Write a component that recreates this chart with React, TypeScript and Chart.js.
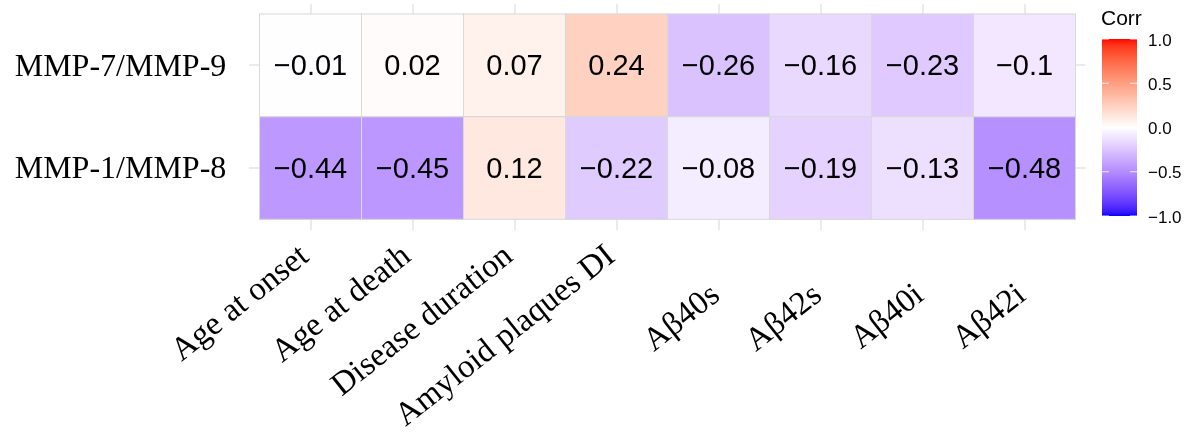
import React, { useEffect, useRef } from "react";
import { Chart, registerables } from "chart.js";

Chart.register(...registerables);

// ---------- data ----------
const rowLabels = ["MMP-7/MMP-9", "MMP-1/MMP-8"];
const columnLabels = [
  "Age at onset",
  "Age at death",
  "Disease duration",
  "Amyloid plaques DI",
  "Aβ40s",
  "Aβ42s",
  "Aβ40i",
  "Aβ42i",
];
const corrMMP7MMP9 = [-0.01, 0.02, 0.07, 0.24, -0.26, -0.16, -0.23, -0.1];
const corrMMP1MMP8 = [-0.44, -0.45, 0.12, -0.22, -0.08, -0.19, -0.13, -0.48];
const legendTicks = [1, 0.5, 0, -0.5, -1];
const legendTitle = "Corr";
const rowSeries = [corrMMP7MMP9, corrMMP1MMP8];

// ---------- colour scale (Lab interpolation blue - white - red) ----------
type V3 = [number, number, number];
const Xn = 0.95047, Yn = 1.0, Zn = 1.08883;
const toLin = (c: number) => {
  c /= 255;
  return c <= 0.04045 ? c / 12.92 : Math.pow((c + 0.055) / 1.055, 2.4);
};
const fromLin = (c: number) => {
  const v = c <= 0.0031308 ? 12.92 * c : 1.055 * Math.pow(c, 1 / 2.4) - 0.055;
  return Math.round(Math.min(1, Math.max(0, v)) * 255);
};
function rgbToLab([r, g, b]: V3): V3 {
  const R = toLin(r), G = toLin(g), B = toLin(b);
  const X = 0.4124564 * R + 0.3575761 * G + 0.1804375 * B;
  const Y = 0.2126729 * R + 0.7151522 * G + 0.072175 * B;
  const Z = 0.0193339 * R + 0.119192 * G + 0.9503041 * B;
  const f = (t: number) => (t > 216 / 24389 ? Math.cbrt(t) : ((24389 / 27) * t + 16) / 116);
  const fx = f(X / Xn), fy = f(Y / Yn), fz = f(Z / Zn);
  return [116 * fy - 16, 500 * (fx - fy), 200 * (fy - fz)];
}
function labToCss([L, a, b]: V3): string {
  const fy = (L + 16) / 116, fx = fy + a / 500, fz = fy - b / 200;
  const finv = (t: number) => (t * t * t > 216 / 24389 ? t * t * t : (116 * t - 16) / (24389 / 27));
  const X = Xn * finv(fx), Y = Yn * finv(fy), Z = Zn * finv(fz);
  const R = 3.2404542 * X - 1.5371385 * Y - 0.4985314 * Z;
  const G = -0.969266 * X + 1.8760108 * Y + 0.041556 * Z;
  const B = 0.0556434 * X - 0.2040259 * Y + 1.0572252 * Z;
  return `rgb(${fromLin(R)},${fromLin(G)},${fromLin(B)})`;
}
const LOW = rgbToLab([0, 0, 255]);
const MID = rgbToLab([255, 255, 255]);
const HIGH = rgbToLab([255, 0, 0]);
function corrColor(v: number): string {
  const t = (Math.max(-1, Math.min(1, v)) + 1) / 2;
  const [a, b, f] = t <= 0.5 ? [LOW, MID, t / 0.5] : [MID, HIGH, (t - 0.5) / 0.5];
  return labToCss([a[0] + (b[0] - a[0]) * f, a[1] + (b[1] - a[1]) * f, a[2] + (b[2] - a[2]) * f]);
}

const fmt = (v: number, digits?: number) => {
  const s = digits === undefined ? String(Math.abs(v)) : Math.abs(v).toFixed(digits);
  return (v < 0 ? "\u2212" : "") + s;
};

const SERIF = '"Liberation Serif", "Times New Roman", serif';
const SANS = '"Liberation Sans", Arial, Helvetica, sans-serif';

// ---------- plugin: cell borders, values, axis labels, colour bar ----------
const heatmapPlugin = {
  id: "heatmapDecor",
  afterDatasetsDraw(chart: any) {
    const ctx = chart.ctx as CanvasRenderingContext2D;
    ctx.save();
    chart.data.datasets.forEach((ds: any, di: number) => {
      const meta = chart.getDatasetMeta(di);
      meta.data.forEach((el: any) => {
        const p = el.getProps(["x", "y", "base", "width"], true);
        const top = Math.min(p.y, p.base);
        const h = Math.abs(p.base - p.y);
        ctx.strokeStyle = "#d9d9d9";
        ctx.lineWidth = 1;
        ctx.strokeRect(p.x - p.width / 2, top, p.width, h);
      });
    });
    chart.data.datasets.forEach((ds: any, di: number) => {
      const meta = chart.getDatasetMeta(di);
      const values: number[] = ds.corrValues;
      meta.data.forEach((el: any, i: number) => {
        const p = el.getProps(["x", "y", "base"], true);
        ctx.fillStyle = "#000";
        ctx.font = `29px ${SANS}`;
        ctx.textAlign = "center";
        ctx.textBaseline = "middle";
        ctx.fillText(fmt(values[i]), p.x, (p.y + p.base) / 2 + 2);
      });
    });
    ctx.restore();
  },
  afterDraw(chart: any) {
    const ctx = chart.ctx as CanvasRenderingContext2D;
    const xs = chart.scales.x;
    const ys = chart.scales.y;
    const area = chart.chartArea;
    ctx.save();
    // y labels
    ctx.fillStyle = "#000";
    ctx.font = `32px ${SERIF}`;
    ctx.textAlign = "right";
    ctx.textBaseline = "middle";
    rowLabels.forEach((lab, r) => {
      const yv = rowLabels.length - 1 - r;
      ctx.fillText(lab, area.left - 23, ys.getPixelForValue(yv) + 2);
    });
    // x labels, rotated
    const tileBottom = ys.getPixelForValue(-0.5);
    const ang = (-38.5 * Math.PI) / 180;
    ctx.font = `33px ${SERIF}`;
    ctx.textAlign = "right";
    ctx.textBaseline = "alphabetic";
    columnLabels.forEach((lab, i) => {
      const expr = lab.includes("β");
      const x = xs.getPixelForValue(i) + (expr ? 3 : 0);
      const y = tileBottom + (expr ? 79 : 40);
      ctx.save();
      ctx.translate(x, y);
      ctx.rotate(ang);
      ctx.fillText(lab, 0, 0);
      ctx.restore();
    });
    // colour bar legend
    const bx = 1102, bw = 35, btop = 39, bbot = 216;
    const grad = ctx.createLinearGradient(0, btop, 0, bbot);
    const n = 60;
    for (let k = 0; k <= n; k++) {
      const v = 1 - (2 * k) / n;
      grad.addColorStop(k / n, corrColor(v));
    }
    ctx.fillStyle = grad;
    ctx.fillRect(bx, btop, bw, bbot - btop);
    ctx.strokeStyle = "rgba(255,255,255,0.85)";
    ctx.lineWidth = 1;
    legendTicks.forEach((v) => {
      const ty = btop + ((1 - v) / 2) * (bbot - btop);
      ctx.beginPath();
      ctx.moveTo(bx, ty);
      ctx.lineTo(bx + 7, ty);
      ctx.moveTo(bx + bw - 7, ty);
      ctx.lineTo(bx + bw, ty);
      ctx.stroke();
    });
    ctx.fillStyle = "#000";
    ctx.font = `17px ${SANS}`;
    ctx.textAlign = "left";
    ctx.textBaseline = "middle";
    legendTicks.forEach((v) => {
      const ty = btop + ((1 - v) / 2) * (bbot - btop);
      ctx.fillText(fmt(v, 1), 1148, ty + 2);
    });
    ctx.font = `21px ${SANS}`;
    ctx.fillText(legendTitle, 1101, 19);
    ctx.restore();
  },
};

export default function App() {
  const ref = useRef<HTMLCanvasElement>(null);
  useEffect(() => {
    const canvas = ref.current;
    if (!canvas) return;
    const datasets = rowSeries.map((vals, r) => {
      const yv = rowLabels.length - 1 - r;
      return {
        label: rowLabels[r],
        corrValues: vals,
        data: vals.map((_, i) => ({ x: i, y: [yv - 0.5, yv + 0.5] })),
        backgroundColor: vals.map((v) => corrColor(v)),
        borderWidth: 0,
        barPercentage: 1,
        categoryPercentage: 1,
        grouped: false,
      };
    });
    const chart = new Chart(canvas, {
      type: "bar",
      data: { datasets: datasets as any },
      plugins: [heatmapPlugin as any],
      options: {
        responsive: false,
        animation: false,
        devicePixelRatio: 1,
        events: [],
        layout: { padding: { left: 249.3, right: 1192 - 1085.7, top: 3.7, bottom: 436 - 229.6 } },
        plugins: { legend: { display: false }, tooltip: { enabled: false } },
        scales: {
          x: {
            type: "linear",
            offset: false,
            min: -0.6,
            max: columnLabels.length - 1 + 0.6,
            afterBuildTicks: (s: any) => {
              s.ticks = columnLabels.map((_, i) => ({ value: i }));
            },
            afterFit: (s: any) => {
              s.height = 0;
            },
            ticks: { display: false },
            grid: { color: "#ebebeb", lineWidth: 2, drawTicks: false, offset: false },
            border: { display: false },
          },
          y: {
            type: "linear",
            offset: false,
            min: -0.6,
            max: rowLabels.length - 1 + 0.6,
            afterBuildTicks: (s: any) => {
              s.ticks = rowLabels.map((_, i) => ({ value: i }));
            },
            afterFit: (s: any) => {
              s.width = 0;
            },
            ticks: { display: false },
            grid: { color: "#ebebeb", lineWidth: 2, drawTicks: false, offset: false },
            border: { display: false },
          },
        },
      } as any,
    });
    return () => chart.destroy();
  }, []);
  return (
    <div style={{ position: "absolute", left: 0, top: 0, width: 1192, height: 436, background: "#fff" }}>
      <canvas ref={ref} width={1192} height={436} style={{ display: "block", width: 1192, height: 436 }} />
    </div>
  );
}
